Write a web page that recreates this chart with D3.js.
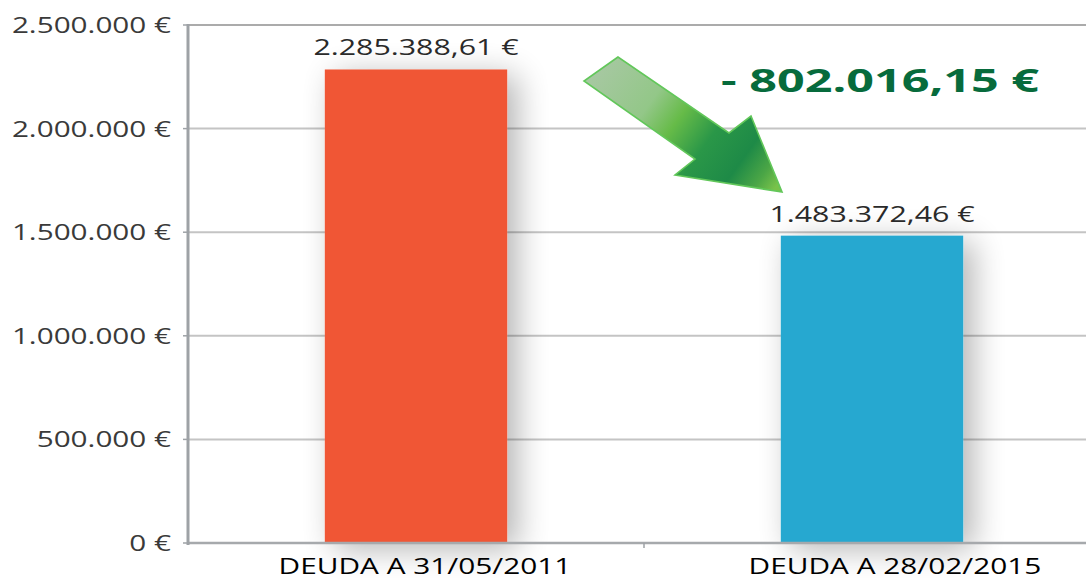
<!DOCTYPE html>
<html><head><meta charset="utf-8">
<script src="https://cdn.jsdelivr.net/npm/d3@7"></script>
<style>html,body{margin:0;padding:0;background:#fff;overflow:hidden}text{font-family:"Open Sans",sans-serif}</style>
</head><body><svg id="c" width="1086" height="580"></svg>
<script>
const categories = ["DEUDA A 31/05/2011", "DEUDA A 28/02/2015"];
const values = [2285388.61, 1483372.46];
const colors = ["#f05636", "#25a8d0"];
const yTicks = [0, 500000, 1000000, 1500000, 2000000, 2500000];

const loc = d3.formatLocale({decimal: ",", thousands: ".", grouping: [3], currency: ["", " €"]});
const fInt = loc.format(",.0f"), fDec = loc.format(",.2f");

const svg = d3.select("#c");
const W = 1086, H = 580;
const x = d3.scaleBand().domain(categories).range([188, 1100]).padding(0);
const y = d3.scaleLinear().domain([0, 2500000]).range([543, 25]);
const barW = x.bandwidth() * 0.4;

const defs = svg.append("defs");
const f = defs.append("filter").attr("id", "sh").attr("x", "-60%").attr("y", "-20%").attr("width", "220%").attr("height", "140%");
f.append("feGaussianBlur").attr("in", "SourceAlpha").attr("stdDeviation", 16).attr("result", "b");
f.append("feOffset").attr("in", "b").attr("dx", 10).attr("dy", 6).attr("result", "o");
f.append("feComponentTransfer").attr("in", "o").attr("result", "t")
  .append("feFuncA").attr("type", "linear").attr("slope", 0.3);
const m = f.append("feMerge"); m.append("feMergeNode").attr("in", "t"); m.append("feMergeNode").attr("in", "SourceGraphic");

const g = defs.append("linearGradient").attr("id", "ag").attr("gradientUnits", "userSpaceOnUse")
  .attr("x1", 600).attr("y1", 62).attr("x2", 775).attr("y2", 188);
[[0, "#a7c8a2"], [0.3, "#93c788"], [0.45, "#66bb48"], [0.62, "#2a9748"], [0.8, "#1e8a47"], [0.92, "#4ba646"], [1, "#78c24a"]]
  .forEach(([o, c]) => g.append("stop").attr("offset", o).attr("stop-color", c));

function sx(sel, s) {
  sel.each(function () {
    const t = d3.select(this);
    const px = +t.attr("data-x"), py = +t.attr("data-y");
    t.attr("transform", `translate(${px},${py}) scale(${s},1)`);
  });
}

// gridlines
svg.append("g").selectAll("line").data(yTicks.filter(d => d > 0)).join("line")
  .attr("x1", 188).attr("x2", W).attr("y1", d => y(d)).attr("y2", d => y(d))
  .attr("stroke", d => d === 2500000 ? "#ababab" : "#c4c4c4").attr("stroke-width", 2);

// bars
svg.append("g").selectAll("rect").data(values).join("rect")
  .attr("x", (d, i) => x(categories[i]) + (x.bandwidth() - barW) / 2)
  .attr("y", d => y(d)).attr("width", barW).attr("height", d => y(0) - y(d))
  .attr("fill", (d, i) => colors[i]).attr("filter", "url(#sh)");

// axis lines
svg.append("line").attr("x1", 188).attr("x2", W).attr("y1", y(0)).attr("y2", y(0)).attr("stroke", "#a6a9ac").attr("stroke-width", 2.5);
svg.append("line").attr("x1", 188).attr("x2", 188).attr("y1", y(2500000) - 1).attr("y2", y(0) + 2).attr("stroke", "#9ea2a6").attr("stroke-width", 3);
svg.append("g").selectAll("line").data(yTicks).join("line")
  .attr("x1", 183).attr("x2", 188).attr("y1", d => y(d)).attr("y2", d => y(d)).attr("stroke", "#9ea2a6").attr("stroke-width", 1.5);
svg.append("line").attr("x1", x(categories[1])).attr("x2", x(categories[1])).attr("y1", y(0)).attr("y2", y(0) + 5).attr("stroke", "#9ea2a6").attr("stroke-width", 1.5);

// y tick labels
svg.append("g").selectAll("text").data(yTicks).join("text")
  .attr("data-x", 171).attr("data-y", d => y(d)).attr("dy", "0.36em")
  .attr("text-anchor", "end").attr("font-size", 22).attr("fill", "#3a3a3a")
  .text(d => fInt(d) + " €").call(sx, 1.35);

// value labels
svg.append("g").selectAll("text").data(values).join("text")
  .attr("data-x", (d, i) => x(categories[i]) + x.bandwidth() / 2)
  .attr("data-y", d => y(d) - 14)
  .attr("text-anchor", "middle").attr("font-size", 22).attr("fill", "#2a2a2a")
  .text(d => fDec(d) + " €").call(sx, 1.38);

// category labels
const lx = d3.scalePoint().domain(categories).range([425, 895]);
svg.append("g").selectAll("text").data(categories).join("text")
  .attr("data-x", d => lx(d)).attr("data-y", 574)
  .attr("text-anchor", "middle").attr("font-size", 21).attr("fill", "#000").attr("font-weight", 400)
  .text(d => d).call(sx, 1.42);

// arrow
const arrowPts = [[618, 57], [584, 81], [695, 159], [675, 175], [782, 192], [751, 116], [729, 133]];
svg.append("path").attr("d", d3.line()(arrowPts) + "Z")
  .attr("fill", "url(#ag)").attr("stroke", "#62c75a").attr("stroke-width", 1.6).attr("stroke-linejoin", "miter");

// difference
const diff = values[1] - values[0];
svg.append("text").attr("data-x", 880).attr("data-y", 92)
  .attr("text-anchor", "middle").attr("font-size", 33).attr("font-weight", 700).attr("fill", "#076b3c")
  .text("- " + fDec(Math.abs(diff)) + " €").call(sx, 1.47);
</script></body></html>
